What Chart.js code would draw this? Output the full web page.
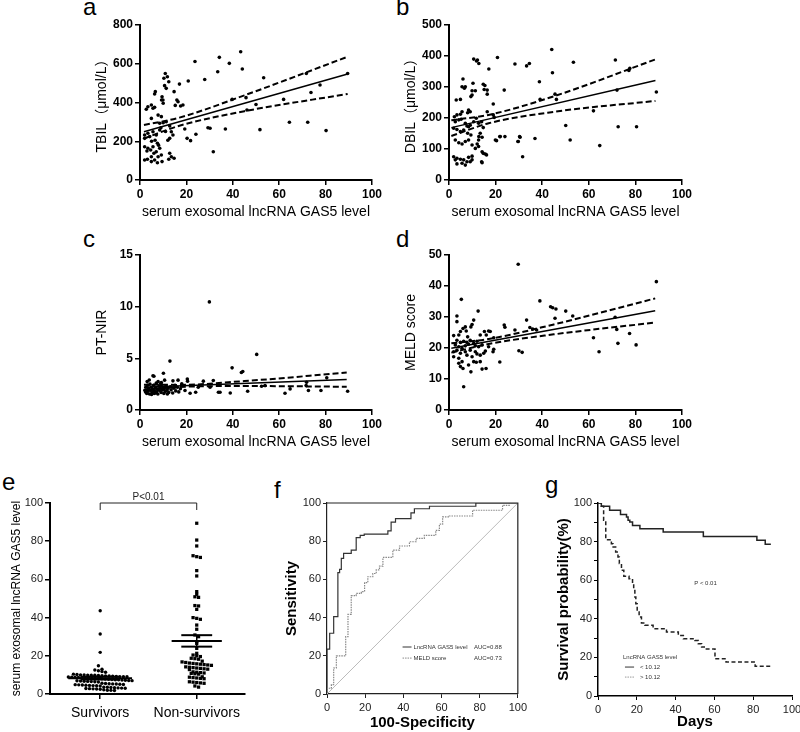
<!DOCTYPE html>
<html>
<head>
<meta charset="utf-8">
<script src="https://cdn.jsdelivr.net/npm/chart.js@4.4.0/dist/chart.umd.min.js"></script>
<style>
  body { margin: 0; width: 800px; height: 732px; overflow: hidden; background: #fff; position: relative;
         font-family: 'Liberation Sans', Arial, sans-serif; }
  canvas { position: absolute; }
  .lab { position: absolute; font-size: 24px; line-height: 24px; color: #000; }
</style>
</head>
<body>
<div class="lab" style="left:83px;top:-5px">a</div>
<div class="lab" style="left:396px;top:-5px">b</div>
<div class="lab" style="left:83px;top:227px">c</div>
<div class="lab" style="left:396px;top:227px">d</div>
<div class="lab" style="left:2px;top:470px">e</div>
<div class="lab" style="left:274px;top:478px">f</div>
<div class="lab" style="left:545px;top:473px">g</div>

<canvas id="chartA" width="345" height="225" style="left:40px;top:0"></canvas>
<canvas id="chartB" width="346" height="225" style="left:349px;top:0"></canvas>
<canvas id="chartC" width="345" height="225" style="left:40px;top:230px"></canvas>
<canvas id="chartD" width="346" height="225" style="left:349px;top:230px"></canvas>
<canvas id="chartE" width="260" height="272" style="left:0;top:460px"></canvas>
<canvas id="chartF" width="260" height="272" style="left:270px;top:460px"></canvas>
<canvas id="chartG" width="280" height="272" style="left:530px;top:460px"></canvas>

<script>
// ---- a: TBIL vs GAS5 ----
const gasA = [23.7,34.2,38.5,33.5,43.4,44.1,27.9,20.8,17.0,53.3,71.7,89.5,73.7,77.6,61.9,50.0,45.7,46.1,39.7,64.4,72.3,80.2,51.7,36.8,29.3,30.2,31.6,24.1,21.8,20.3,19.3,17.5,18.5,15.9,16.4,14.7,15.2,
  10.9,11.8,10.3,12.4,6.6,6.3,10.6,11.3,9.5,9.9,2.7,3.4,4.9,5.6,6.3,4.9,7.8,9.2,8.5,11.3,12.8,2.0,3.4,5.6,8.5,2.0,4.2,7.0,13.5,14.2,12.8,
  3.4,4.6,5.6,7.0,2.0,8.5,9.2,7.8,2.0,3.2,4.9,6.3,7.5,9.5,12.8,13.5,14.7,12.4,4.9,6.0,5.0,6.5,7.5,8.0,3.0,9.0,10.0,11.0,12.0,10.0,9.3];
const tbil = [612,633,602,559,662,573,519,511,495,528,550,550,452,490,416,390,425,361,416,298,298,255,260,263,270,267,146,236,203,215,263,382,387,413,404,456,385,
  550,533,525,507,456,444,487,473,430,413,365,378,387,370,375,318,335,327,293,301,279,232,241,249,258,215,224,232,249,232,215,
  164,155,172,146,172,164,129,120,103,107,95,103,89,95,138,120,112,107,120,138,200,205,190,180,150,270,296,250,205,396,413];
const tbilFit = [[1.7,249],[89.5,547]];
const tbilUpper = [[1.7,284],[17,322],[45,437],[89.5,636]];
const tbilLower = [[1.7,214],[17,280],[45,355],[89.5,444]];

// ---- b: DBIL vs GAS5 ----
const gasB = [44.1,44.4,28.3,33.3,34.5,20.8,10.6,11.8,12.8,12.2,17.1,53.4,71.4,77.6,77.2,38.8,6.0,89.0,72.1,46.1,45.5,39.1,23.7,19.0,62.0,50.1,72.6,80.5,52.0,64.7,36.9,30.5,29.7,21.8,24.0,20.4,31.6,14.7,16.1,14.0,19.0,19.4,16.4,14.0,14.7,12.8,12.1,15.1,16.4,16.4,15.4,14.7,
  7.0,5.6,6.6,10.3,11.3,9.9,3.1,4.9,9.9,9.4,8.4,9.1,8.0,5.6,4.9,3.4,2.3,2.7,4.2,5.2,7.0,7.7,8.4,9.1,10.6,11.7,12.7,2.0,3.4,4.9,6.3,8.0,9.4,13.4,14.2,12.7,2.7,4.2,5.6,7.0,8.4,9.9,11.3,12.7,14.2,15.6,2.0,3.4,2.7,4.9,6.3,7.7,9.1,9.9,8.4,3.4,5.6,7.0,9.9,14.2,19.9,22.0,29.6,30.3];
const dbil = [421,346,374,368,376,395,390,384,376,387,358,380,387,360,353,317,326,284,290,260,277,260,290,245,223,176,172,172,129,111,134,138,124,140,140,127,75,86,81,59,210,202,220,188,169,140,116,292,290,277,305,309,
  301,301,296,312,288,288,258,260,274,269,226,220,217,220,212,210,204,188,194,196,183,174,172,177,188,199,183,167,163,156,161,151,145,151,138,129,129,120,116,124,129,113,102,108,91,84,75,70,65,67,65,59,59,65,73,52,54,48,77,56,129,140,124,140];
const dbilFit = [[1,169],[88.6,321]];
const dbilUpper = [[1,193],[17,210],[45,270],[88.6,389]];
const dbilLower = [[1,142],[17,183],[45,220],[88.6,255]];

// ---- c: PT-INR vs GAS5 ----
const gasC = [29.9,50.3,12.9,39.7,44.3,43.7,10.1,6.0,80.5,71.8,71.6,52.4,53.9,72.6,78.0,89.5,62.5,64.7,46.4,38.9,33.8,34.5,30.2,31.6,27.3,25.1,20.5,18.0,21.6,24.0,19.4,5.6,7.8,9.2,10.6,14.2,16.4,20.4,
  2.1,2.6,2.9,3.2,3.3,3.7,4.1,4.3,4.4,4.9,5.2,5.3,5.8,6.1,6.2,6.7,7.0,7.1,7.6,7.7,8.2,8.3,8.8,9.1,9.2,9.7,10.0,10.3,10.4,10.9,11.2,11.6,12.1,12.4,13.1,13.4,14.1,14.6,15.1,15.4,16.1,16.7,17.4,3.1,4.0,5.0,2.4,6.8,8.9,11.8];
const pnir = [10.46,5.38,4.73,4.08,3.73,3.63,3.56,3.27,3.11,2.69,2.36,2.3,2.36,1.88,1.88,1.81,1.62,2.04,1.81,1.65,1.72,1.72,2.2,2.85,2.79,2.2,2.79,2.53,1.62,1.72,1.88,3.31,2.76,2.66,2.89,2.82,2.89,2.99,
  1.9,2.2,1.6,2.4,1.8,2.1,1.55,2.5,1.9,2.2,1.7,2.0,2.4,1.6,1.85,2.15,2.6,1.75,2.0,1.55,2.3,1.9,2.1,1.7,2.45,1.95,2.2,1.6,2.05,1.8,2.35,1.9,2.1,1.7,2.25,1.95,1.65,2.1,2.4,1.85,2.2,1.75,2.05,2.75,2.9,1.5,1.75,1.65,2.55,1.55];
const pnirFit = [[1.7,2.2],[89.1,2.95]];
const pnirUpper = [[1.7,2.45],[17,2.43],[45,2.8],[89.1,3.62]];
const pnirLower = [[1.7,1.95],[17,2.23],[45,2.32],[89.1,2.25]];

// ---- d: MELD vs GAS5 ----
const gasD = [29.7,89,39,5.3,43.6,44.5,45.9,50.1,45.5,53.1,33.3,12.5,71.3,72,77.5,62,72.5,80.3,64.4,30,31.4,21.8,18.9,23.7,24,28.3,34.7,35.9,37.6,
  3.4,3.4,10.6,9.9,7,6,7.4,9.4,4.9,17,15.2,17.7,2,4.2,8,13.4,16,19.2,3.4,4.9,6.3,7.7,9.1,10.6,12,2.7,4.2,5.6,7,8.4,11.3,12.7,14.2,2,3.4,4.9,7,9.1,11.3,13.4,15.6,17,19.2,2,4.2,5.6,7.7,9.9,12,14.9,4.2,4.9,6,8.4,10.6,13.4,9.4,6.3,14.2,15.9,11.7];
const meld = [47,41.4,35.2,35.7,33.3,33,32.6,31.9,29.6,30.3,29,31.9,29.9,26,24.7,23.3,21.5,21,18.8,19.1,18.6,15.5,18.8,27.4,26.7,25.8,26.6,26.1,25.8,
  30.3,28.5,29,27.6,26.8,26.3,25.5,26.8,25.3,25.5,25.3,25.3,24,24.2,23.6,24.2,24.2,23.3,22.5,21.8,22.2,21.8,22.5,21.5,22.2,21,20.4,19.9,20.7,21.2,20.7,20.4,21,18.8,19.3,18.3,18.8,19.3,18.8,17.7,19,20.4,19.6,17.2,16.7,15.6,17.7,17.2,18.1,18.3,15.1,14,13.4,14.5,15.6,15.6,12.3,7.5,13.2,13.4,15.4];
const meldFit = [[1,19.9],[88.5,32]];
const meldUpper = [[1,21.5],[17,22.9],[45,27.6],[88.5,36]];
const meldLower = [[1,18.5],[17,21.3],[45,24.4],[88.5,28.2]];

// ---- e: GAS5 by outcome ----
const groupNames = ['Survivors', 'Non-survivors'];
const survivors = [43.6,31.4,21.8,14.8,13.0,12.6,12.2,11.8,11.4,
  10.4,10.2,10.0,10.0,9.9,9.8,9.8,9.7,9.6,9.5,9.4,9.3,
  9.2,9.1,9.0,9.0,8.9,8.8,8.8,8.7,8.6,8.5,8.4,8.3,8.2,8.1,8.0,
  7.8,7.7,7.6,7.5,7.4,7.3,7.2,7.1,7.0,6.9,6.8,6.7,6.6,6.5,6.4,6.3,
  5.6,5.5,5.4,5.3,5.2,5.1,5.0,4.9,4.8,4.7,4.6,4.5,4.4,4.3,4.2,
  3.6,3.5,3.4,3.3,3.2,3.1,3.0,2.9,2.8,2.7,2.6,2.5,2.2,2.0,1.9,1.8];
const nonSurvivors = [89.4,80.6,77.5,72.4,71.9,71.5,64.6,61.8,53.6,52.2,50.9,50.6,46.3,46.1,44.3,40.0,39.6,39.1,36.1,33.9,30.9,30.0,27.4,26.5,23.9,21.3,20.4,20.0,19.6,18.7,18.5,18.2,
  17.2,16.8,16.5,16.2,16.0,15.8,15.6,15.4,15.2,15.0,14.2,14.0,13.8,13.6,13.4,13.2,13.0,12.8,
  11.6,11.4,11.2,11.0,10.8,10.6,10.4,9.0,8.8,8.6,8.4,8.2,8.0,6.4,6.2,6.0,5.8,5.6,4.2,3.6];
const groupMean = [8.3, 27.8];
const groupSem = [0.7, 3.0];

// ---- f: ROC curves ----
const gasFpr = [0,0,1.4,1.4,3.5,3.5,5.7,5.7,6.6,6.6,7.5,7.5,8.7,8.7,12.7,12.7,15.3,15.3,17.4,17.4,19.5,19.5,31.9,31.9,33.6,33.6,35.9,35.9,44,44,45.8,45.8,53.7,53.7,78,78,100];
const gasTpr = [0,23.5,23.5,31.8,31.8,40.5,40.5,63.5,63.5,65.2,65.2,71,71,73.6,73.6,75.3,75.3,81.9,81.9,83.1,83.1,83.7,83.7,85.4,85.4,90,90,91.8,91.8,94.8,94.8,97,97,98.3,98.3,100,100];
const meldFpr = [0,0,2.3,2.3,3.5,3.5,4.9,4.9,9.8,9.8,11,11,12.7,12.7,15.3,15.3,18,18,19.7,19.7,21.4,21.4,24,24,25.8,25.8,27.5,27.5,29.3,29.3,34.5,34.5,38,38,43.2,43.2,46.7,46.7,51,51,57,57,58.9,58.9,60.6,60.6,64.1,64.1,76.3,76.3,92,92,95.5,95.5,100];
const meldTpr = [0,3,3,4.9,4.9,13.6,13.6,20,20,30,30,41.7,41.7,51.5,51.5,52.7,52.7,53.6,53.6,58.3,58.3,61.4,61.4,63.1,63.1,65,65,67,67,71.5,71.5,75.3,75.3,77.5,77.5,79.7,79.7,81.5,81.5,83.1,83.1,85.7,85.7,88.9,88.9,92.7,92.7,93.2,93.2,96.2,96.2,98.8,98.8,100,100];
const refLine = [[0,0],[100,100]];

// ---- g: Kaplan-Meier ----
const lowTime = [0,1.7,6,11.6,14.7,15.5,16.4,17.8,21.6,33.6,54.3,81.9,86.2,89.1];
const lowSurv = [100,98.3,96.2,94.1,92.7,91,90.2,88.4,86.7,85,82.7,80.7,78.6,78.6];
const highTime = [0,1.7,2.9,4,6.9,7.8,9.1,10.3,11,12.1,13.3,16,17.8,18.4,19,19.5,20.2,21.2,22.4,24.1,28.4,35.3,41.4,44,50,51.7,53.4,55.2,60.3,66,81,88.8];
const highSurv = [100,98.3,91,81,78.9,77.2,74.6,72,68.6,65.1,62,60.8,58.2,54.7,51.3,47.8,43.5,40.9,37.8,36.6,34.9,33.2,31.4,29.7,28.8,27.1,25.4,24.4,19.3,17.6,15.4,15.4];

Chart.defaults.font.family = "'Liberation Sans', Arial, sans-serif";
Chart.defaults.color = '#000';
Chart.defaults.animation = false;
Chart.defaults.plugins.legend.display = false;
Chart.defaults.plugins.tooltip.enabled = false;

const xy = (xs, ys) => xs.map((x, i) => ({ x: x, y: ys[i] }));
const pairs = arr => arr.map(p => ({ x: p[0], y: p[1] }));

function axis(o) {
  const a = {
    type: 'linear', min: o.min, max: o.max,
    ticks: { stepSize: o.step, color: o.tickColor || '#000', font: o.tickFont, padding: o.tickPad || 2 },
    grid: { drawOnChartArea: false, tickLength: o.tickLen || 5, color: o.lineColor || '#000', lineWidth: o.tickWidth || 1.5 },
    border: { color: o.lineColor || '#000', width: o.border || 2 },
    title: { display: true, text: o.title, font: o.titleFont, color: '#000', padding: o.titlePad },
    afterFit: o.horizontal ? s => { s.height = o.fit; } : s => { s.width = o.fit; }
  };
  if (o.cb) a.ticks.callback = o.cb;
  if (o.build) a.afterBuildTicks = o.build;
  return a;
}

function scatterPanel(id, xs, ys, fit, upper, lower, yMax, yStep, yTitle) {
  const band = d => ({ data: pairs(d), showLine: true, pointRadius: 0, borderColor: '#000',
    borderWidth: 2, borderDash: [6, 3], cubicInterpolationMode: 'monotone' });
  new Chart(document.getElementById(id), {
    type: 'scatter',
    data: { datasets: [
      { data: xy(xs, ys), pointRadius: 1.8, pointBackgroundColor: '#000', pointBorderWidth: 0 },
      { data: pairs(fit), showLine: true, pointRadius: 0, borderColor: '#000', borderWidth: 1.5 },
      band(upper), band(lower)
    ] },
    options: {
      responsive: false,
      layout: { padding: { top: 25, right: 13 } },
      scales: {
        x: axis({ min: 0, max: 100, step: 20, horizontal: true, fit: 45,
          title: 'serum exosomal lncRNA GAS5 level', titleFont: { size: 14 },
          titlePad: { top: 0, bottom: 4.5 }, tickFont: { size: 12, weight: 'bold' } }),
        y: axis({ min: 0, max: yMax, step: yStep, fit: 100, title: yTitle,
          titleFont: { size: 14, family: "'Liberation Sans', 'Noto Sans CJK SC', sans-serif" },
          titlePad: { top: 53.6, bottom: 0 }, tickFont: { size: 12, weight: 'bold' } })
      }
    }
  });
}

scatterPanel('chartA', gasA, tbil, tbilFit, tbilUpper, tbilLower, 800, 200, 'TBIL（μmol/L）');
scatterPanel('chartB', gasB, dbil, dbilFit, dbilUpper, dbilLower, 500, 100, 'DBIL（μmol/L）');
scatterPanel('chartC', gasC, pnir, pnirFit, pnirUpper, pnirLower, 15, 5, 'PT-NIR');
scatterPanel('chartD', gasD, meld, meldFit, meldUpper, meldLower, 50, 10, 'MELD score');

// simple beeswarm: values in the same bin are spread sideways around the group centre
function swarm(values, center, bin, step, maxHalf) {
  const rows = {};
  values.forEach(v => { const k = Math.round(v / bin); (rows[k] = rows[k] || []).push(v); });
  const out = [];
  Object.values(rows).forEach(r => {
    const gap = Math.min(step, (2 * maxHalf) / Math.max(r.length - 1, 1));
    r.forEach((v, i) => out.push({ x: center + (i - (r.length - 1) / 2) * gap, y: v }));
  });
  return out;
}

const eMarks = {
  id: 'eMarks',
  afterDatasetsDraw(chart) {
    const { ctx, scales: { x, y } } = chart;
    const meanHalf = [0.33, 0.26], semHalf = [0.2, 0.16];
    const seg = (x1, y1, x2, y2) => { ctx.beginPath(); ctx.moveTo(x1, y1); ctx.lineTo(x2, y2); ctx.stroke(); };
    ctx.save();
    ctx.strokeStyle = '#000';
    groupMean.forEach((m, i) => {
      ctx.lineWidth = 2;
      seg(x.getPixelForValue(i - meanHalf[i]), y.getPixelForValue(m), x.getPixelForValue(i + meanHalf[i]), y.getPixelForValue(m));
      [m - groupSem[i], m + groupSem[i]].forEach(v =>
        seg(x.getPixelForValue(i - semHalf[i]), y.getPixelForValue(v), x.getPixelForValue(i + semHalf[i]), y.getPixelForValue(v)));
      ctx.lineWidth = 1.5;
      seg(x.getPixelForValue(i), y.getPixelForValue(m - groupSem[i]), x.getPixelForValue(i), y.getPixelForValue(m + groupSem[i]));
    });
    // significance bracket
    const top = y.getPixelForValue(100);
    ctx.lineWidth = 1;
    ctx.strokeStyle = '#222';
    ctx.beginPath();
    ctx.moveTo(x.getPixelForValue(0), top + 7);
    ctx.lineTo(x.getPixelForValue(0), top);
    ctx.lineTo(x.getPixelForValue(1), top);
    ctx.lineTo(x.getPixelForValue(1), top + 7);
    ctx.stroke();
    ctx.fillStyle = '#222';
    ctx.font = "10px 'Liberation Sans', Arial, sans-serif";
    ctx.textAlign = 'center';
    ctx.textBaseline = 'alphabetic';
    ctx.fillText('P<0.01', x.getPixelForValue(0.5), top - 3);
    ctx.restore();
  }
};

new Chart(document.getElementById('chartE'), {
  type: 'scatter',
  data: { datasets: [
    { data: swarm(survivors, 0, 2, 0.037, 0.33), pointRadius: 1.7, pointStyle: 'circle', pointBackgroundColor: '#000', pointBorderWidth: 0 },
    { data: swarm(nonSurvivors, 1, 2, 0.038, 0.2), pointRadius: 2.3, pointStyle: 'rect', pointBackgroundColor: '#000', pointBorderWidth: 0 }
  ] },
  options: {
    responsive: false,
    layout: { padding: { top: 43, right: 15 } },
    scales: {
      x: axis({ min: -0.52, max: 1.5, horizontal: true, fit: 38, title: '', titleFont: { size: 1 },
        titlePad: 0, tickFont: { size: 14 }, tickPad: 6, cb: v => groupNames[v],
        build: s => { s.ticks = [{ value: 0 }, { value: 1 }]; } }),
      y: axis({ min: 0, max: 100, step: 20, fit: 50, title: 'serum exosomal lncRNA GAS5 level',
        titleFont: { size: 12 }, titlePad: { top: 9.8, bottom: 0 }, tickFont: { size: 11 }, tickColor: '#222' })
    }
  },
  plugins: [eMarks]
});
Chart.getChart('chartE').options.scales.x.title.display = false;
Chart.getChart('chartE').update();

// helper for tiny in-plot texts placed in data coordinates
function note(ctx, x, y, text, xv, yv, align) {
  ctx.textAlign = align || 'left';
  ctx.fillText(text, x.getPixelForValue(xv), y.getPixelForValue(yv));
}

const fMarks = {
  id: 'fMarks',
  afterDatasetsDraw(chart) {
    const { ctx, chartArea: a, scales: { x, y } } = chart;
    ctx.save();
    ctx.strokeStyle = '#222';
    ctx.lineWidth = 1.2;
    ctx.beginPath();
    ctx.moveTo(a.left, a.top); ctx.lineTo(a.right, a.top); ctx.lineTo(a.right, a.bottom);
    ctx.stroke();
    // legend
    ctx.lineWidth = 1;
    ctx.strokeStyle = '#333';
    ctx.beginPath(); ctx.moveTo(x.getPixelForValue(39.6), y.getPixelForValue(24.6)); ctx.lineTo(x.getPixelForValue(44.3), y.getPixelForValue(24.6)); ctx.stroke();
    ctx.strokeStyle = '#888';
    ctx.setLineDash([1.5, 1]);
    ctx.beginPath(); ctx.moveTo(x.getPixelForValue(39.6), y.getPixelForValue(18.8)); ctx.lineTo(x.getPixelForValue(44.3), y.getPixelForValue(18.8)); ctx.stroke();
    ctx.setLineDash([]);
    ctx.fillStyle = '#333';
    ctx.font = "6px 'Liberation Sans', Arial, sans-serif";
    ctx.textBaseline = 'middle';
    note(ctx, x, y, 'LncRNA GAS5 level', 45.3, 24.6);
    note(ctx, x, y, 'AUC=0.88', 77, 24.6);
    note(ctx, x, y, 'MELD score', 45.3, 18.8);
    note(ctx, x, y, 'AUC=0.73', 77, 18.8);
    ctx.restore();
  }
};

new Chart(document.getElementById('chartF'), {
  type: 'scatter',
  data: { datasets: [
    { data: pairs(refLine), showLine: true, pointRadius: 0, borderColor: '#bbb', borderWidth: 1 },
    { data: xy(meldFpr, meldTpr), showLine: true, pointRadius: 0, borderColor: '#888', borderWidth: 1.2, borderDash: [1.5, 1] },
    { data: xy(gasFpr, gasTpr), showLine: true, pointRadius: 0, borderColor: '#333', borderWidth: 1.2 }
  ] },
  options: {
    responsive: false,
    layout: { padding: { top: 43, right: 11 } },
    scales: {
      x: axis({ min: 0, max: 100, step: 20, horizontal: true, fit: 38, title: '100-Specificity',
        titleFont: { size: 15, weight: 'bold' }, titlePad: { top: 0, bottom: 0 }, tickFont: { size: 11 },
        tickColor: '#222', lineColor: '#222', border: 1.2, tickWidth: 1, tickLen: 4, tickPad: 3 }),
      y: axis({ min: 0, max: 100, step: 20, fit: 57, title: 'Sensitivity',
        titleFont: { size: 15, weight: 'bold' }, titlePad: { top: 13, bottom: 0 }, tickFont: { size: 11 },
        tickColor: '#222', lineColor: '#222', border: 1.2, tickWidth: 1, tickLen: 4 })
    }
  },
  plugins: [fMarks]
});

const gMarks = {
  id: 'gMarks',
  afterDatasetsDraw(chart) {
    const { ctx, scales: { x, y } } = chart;
    ctx.save();
    ctx.fillStyle = '#333';
    ctx.font = "6px 'Liberation Sans', Arial, sans-serif";
    ctx.textBaseline = 'middle';
    note(ctx, x, y, 'P < 0.01', 55.4, 58.5, 'center');
    note(ctx, x, y, 'LncRNA GAS5 level', 12.9, 20);
    note(ctx, x, y, '< 10.12', 21.6, 15);
    note(ctx, x, y, '> 10.12', 21.6, 9.8);
    ctx.lineWidth = 1;
    ctx.strokeStyle = '#333';
    ctx.beginPath(); ctx.moveTo(x.getPixelForValue(13.9), y.getPixelForValue(15)); ctx.lineTo(x.getPixelForValue(18.6), y.getPixelForValue(15)); ctx.stroke();
    ctx.strokeStyle = '#999';
    ctx.setLineDash([1.5, 1]);
    ctx.beginPath(); ctx.moveTo(x.getPixelForValue(13.9), y.getPixelForValue(9.8)); ctx.lineTo(x.getPixelForValue(18.6), y.getPixelForValue(9.8)); ctx.stroke();
    ctx.restore();
  }
};

new Chart(document.getElementById('chartG'), {
  type: 'scatter',
  data: { datasets: [
    { data: xy(lowTime, lowSurv), showLine: true, stepped: 'before', pointRadius: 0, borderColor: '#222', borderWidth: 1.5 },
    { data: xy(highTime, highSurv), showLine: true, stepped: 'before', pointRadius: 0, borderColor: '#222', borderWidth: 1.5, borderDash: [4, 2.5] }
  ] },
  options: {
    responsive: false,
    layout: { padding: { top: 43, right: 18 } },
    scales: {
      x: axis({ min: 0, max: 100, step: 20, horizontal: true, fit: 36, title: 'Days',
        titleFont: { size: 15, weight: 'bold' }, titlePad: { top: 0, bottom: 1.6 }, tickFont: { size: 11 },
        tickColor: '#222', border: 1.5, tickWidth: 1, tickLen: 4, tickPad: 3 }),
      y: axis({ min: 0, max: 100, step: 10, fit: 68, title: 'Survival probability(%)',
        titleFont: { size: 15, weight: 'bold' }, titlePad: { top: 24.6, bottom: 0 }, tickFont: { size: 11 },
        tickColor: '#222', border: 1.5, tickWidth: 1, tickLen: 4, cb: v => (v % 20 === 0 ? v : '') })
    }
  },
  plugins: [gMarks]
});
</script>
</body>
</html>
